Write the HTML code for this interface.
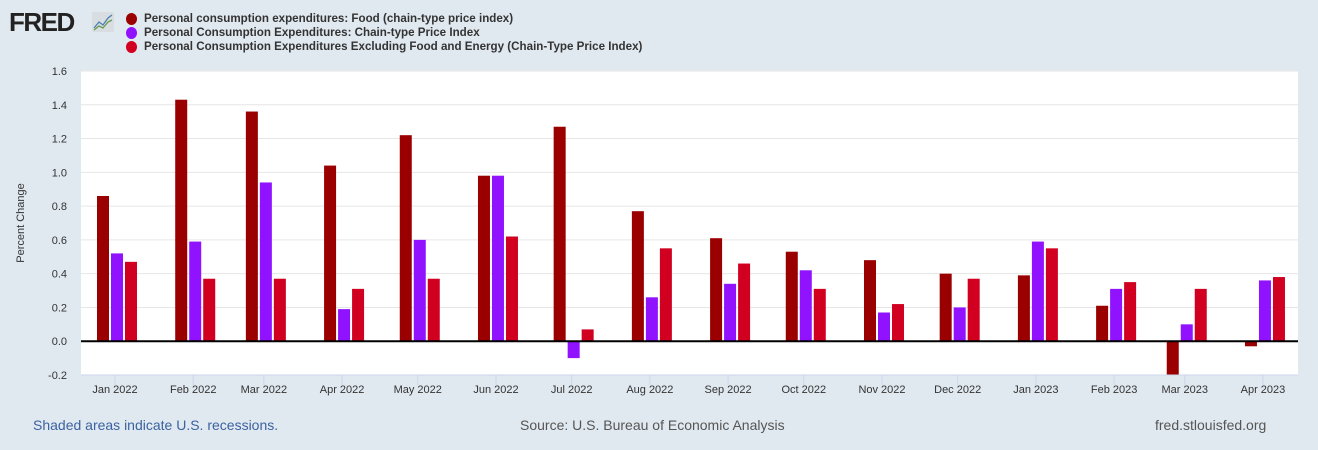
<!DOCTYPE html>
<html><head><meta charset="utf-8"><style>
body{margin:0;width:1318px;height:450px;background:#e1e9f0;font-family:"Liberation Sans",sans-serif;overflow:hidden;position:relative}
.leg{position:absolute;left:144px;font-size:11.6px;font-weight:bold;color:#333;white-space:nowrap}
.dot{position:absolute;left:-18px;top:1px;width:11px;height:12px;border-radius:50%}
</style></head><body>
<div style="position:absolute;left:9px;top:7px;font:900 26px 'Liberation Sans',sans-serif;color:#222;letter-spacing:-1.5px">FRED</div>
<svg style="position:absolute;left:92px;top:12px" width="22" height="20"><rect width="22" height="20" rx="2" fill="#d8dde2"/><polyline points="2,16 7,10 11,13 16,6 20,3" fill="none" stroke="#4a7fb0" stroke-width="1.3"/><polyline points="2,18 7,14 11,16 16,10 20,8" fill="none" stroke="#6a9a4a" stroke-width="1.3"/></svg>
<div class="leg" style="top:12px"><span class="dot" style="background:#9a0000"></span>Personal consumption expenditures: Food (chain-type price index)</div>
<div class="leg" style="top:26px"><span class="dot" style="background:#9012fe"></span>Personal Consumption Expenditures: Chain-type Price Index</div>
<div class="leg" style="top:40px"><span class="dot" style="background:#d10021"></span>Personal Consumption Expenditures Excluding Food and Energy (Chain-Type Price Index)</div>
<svg id="chart" style="position:absolute;left:0;top:0" width="1318" height="450"></svg>
<div style="position:absolute;left:33px;top:417px;font-size:14px;color:#3b62a0">Shaded areas indicate U.S. recessions.</div>
<div style="position:absolute;left:520px;top:417px;font-size:14px;color:#555">Source: U.S. Bureau of Economic Analysis</div>
<div style="position:absolute;left:1155px;top:417px;font-size:14px;color:#555">fred.stlouisfed.org</div>
<script>
const months=["Jan 2022","Feb 2022","Mar 2022","Apr 2022","May 2022","Jun 2022","Jul 2022","Aug 2022","Sep 2022","Oct 2022","Nov 2022","Dec 2022","Jan 2023","Feb 2023","Mar 2023","Apr 2023"];
const dayOffsets=[0,31,59,90,120,151,181,212,243,273,304,334,365,396,424,455];
const food=[0.86,1.43,1.36,1.04,1.22,0.98,1.27,0.77,0.61,0.53,0.48,0.40,0.39,0.21,-0.24,-0.03];
const pce=[0.52,0.59,0.94,0.19,0.60,0.98,-0.10,0.26,0.34,0.42,0.17,0.20,0.59,0.31,0.10,0.36];
const core=[0.47,0.37,0.37,0.31,0.37,0.62,0.07,0.55,0.46,0.31,0.22,0.37,0.55,0.35,0.31,0.38];
const yTicks=[-0.2,0,0.2,0.4,0.6,0.8,1.0,1.2,1.4,1.6];
const ns="http://www.w3.org/2000/svg";
const svg=document.getElementById('chart');
const L=81,R=1298,T=71,B=375,ymin=-0.2,ymax=1.6;
const y=v=>B-(v-ymin)/(ymax-ymin)*(B-T);
const x=d=>115+d*2.523;
function mk(t,a){const e=document.createElementNS(ns,t);for(const k in a)e.setAttribute(k,a[k]);svg.appendChild(e);return e;}
let e=mk('rect',{x:L,y:T,width:R-L,height:B-T,fill:'#fff'});

yTicks.forEach(v=>{
 if(v!==ymin&&v!==0){const g=mk('line',{x1:L,x2:R,y1:y(v),y2:y(v),stroke:'#e6e6e6'});}
 const t=mk('text',{x:L-14,y:y(v)+4,'text-anchor':'end','font-size':11,fill:'#333'});t.textContent=v.toFixed(1);
 
});
const series=[[food,'#9a0000',-14],[pce,'#9012fe',0],[core,'#d10021',14]];
months.forEach((m,i)=>{
 const cx=x(dayOffsets[i])+2;
 series.forEach(([arr,c,off])=>{
  let v=Math.max(arr[i],ymin);
  const y0=y(0),y1=y(v);
  const r=mk('rect',{x:cx+off-6,y:Math.min(y0,y1),width:12,height:Math.abs(y1-y0),fill:c});
  
 });
 const tk=mk('line',{x1:x(dayOffsets[i]),x2:x(dayOffsets[i]),y1:B,y2:B+10,stroke:'#ccd6eb'});
 
 const t=mk('text',{x:x(dayOffsets[i]),y:B+18,'text-anchor':'middle','font-size':11,fill:'#333'});t.textContent=m;
 
});
e=mk('line',{x1:L,x2:R,y1:B,y2:B,stroke:'#ccd6eb'});
e=mk('line',{x1:L,x2:R,y1:y(0),y2:y(0),stroke:'#000','stroke-width':2});
e=mk('text',{x:24,y:223,'text-anchor':'middle','font-size':11,fill:'#333',transform:'rotate(-90 24 223)'});e.textContent='Percent Change';

</script>
</body></html>
